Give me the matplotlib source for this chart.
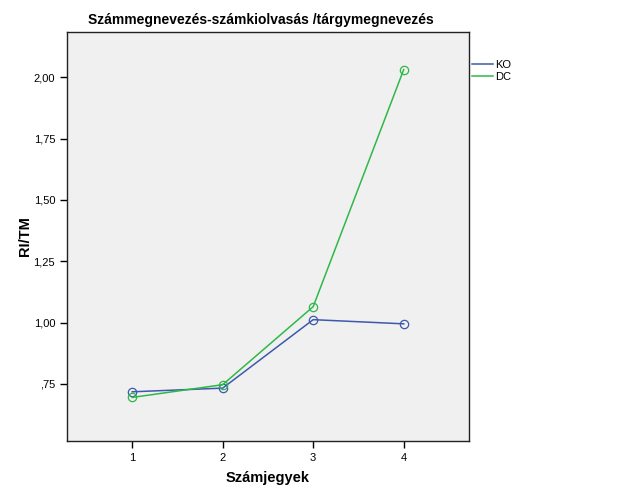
import matplotlib
matplotlib.use('Agg')
import matplotlib.pyplot as plt
from matplotlib.lines import Line2D

plt.rcParams['font.family'] = ['Liberation Sans', 'DejaVu Sans']

# data
digits = [1, 2, 3, 4]
ko = [0.718, 0.733, 1.012, 0.995]
dc = [0.695, 0.747, 1.065, 2.031]
yticks = [0.75, 1.00, 1.25, 1.50, 1.75, 2.00]
ytick_labels = [',75', '1,00', '1,25', '1,50', '1,75', '2,00']

blue = '#3E58AC'
green = '#2EB848'

fig = plt.figure(figsize=(6.26, 5.01), dpi=100)
ax = fig.add_axes([0.107, 0.12, 0.642, 0.816])
ax.set_facecolor('#F0F0F0')

ax.plot(digits, ko, color=blue, lw=1.1, marker='o', ms=6, mfc='none', mec=blue, mew=0.9)
ax.plot(digits, dc, color=green, lw=1.1, marker='o', ms=6, mfc='none', mec=green, mew=0.9)

ax.set_xlim(0.28, 4.72)
ax.set_ylim(0.518, 2.184)
ax.set_xticks(digits)
ax.set_yticks(yticks)
ax.set_yticklabels(ytick_labels)
ax.tick_params(direction='out', length=5, width=1, labelsize=8, color='black')
for s in ax.spines.values():
    s.set_linewidth(1.0)
    s.set_color('#222222')

fig.text(0.417, 0.96, 'Számmegnevezés-számkiolvasás /tárgymegnevezés', fontsize=10,
         fontweight='bold', ha='center', va='center')
ax.set_xlabel('Számjegyek', fontsize=10.5, fontweight='bold', labelpad=6)
ax.set_ylabel('RI/TM', fontsize=10.5, fontweight='bold', labelpad=1)

handles = [Line2D([], [], color=blue, lw=1.1), Line2D([], [], color=green, lw=1.1)]
fig.legend(handles, ['KO', 'DC'], loc='upper left', bbox_to_anchor=(0.747, 0.89),
           frameon=False, fontsize=8, handlelength=1.9, handletextpad=0.2,
           labelspacing=0.2, borderaxespad=0)

fig.savefig('out.png', dpi=100)
